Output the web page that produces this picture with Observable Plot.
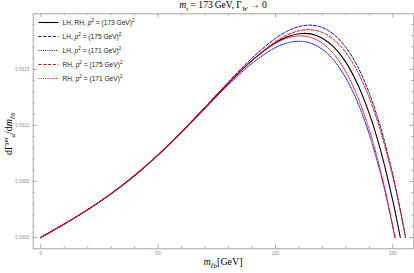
<!DOCTYPE html>
<html><head><meta charset="utf-8">
<script src="https://cdn.jsdelivr.net/npm/d3@7"></script>
<script src="https://cdn.jsdelivr.net/npm/@observablehq/plot@0.6"></script>
<style>body{margin:0;background:#fff;} svg{display:block;}</style>
</head><body><div id="chart"></div>
<script>
// ---- data ----
const mGrid = [0,10,20,30,40,50,60,70,80,90,100,105,110,115,120,125,130,135,140,145];
const mTail173 = [150,152,153.18];
const mTail175 = [150,153,155.43];
const mTail171 = [148,150,150.92];

const lhrh173 = [0,.0001203,.0002483,.0003909,.0005529,.0007365,.0009400,.0011571,.0013758,.0015776,.0017363,.0017891,.0018176,.0018157,.0017773,.0016951,.0015613,.0013675,.0011043,.0007615,.0003282,.0001270,0];
const lh175 = [0,.0001203,.0002482,.0003906,.0005526,.0007366,.0009416,.0011623,.0013876,.0016004,.0017760,.0018397,.0018808,.0018938,.0018721,.0018086,.0016955,.0015241,.0012848,.0009671,.0005596,.0002669,0];
const lh171 = [0,.0001203,.0002484,.0003911,.0005532,.0007363,.0009381,.0011514,.0013629,.0015529,.0016939,.0017352,.0017502,.0017331,.0016774,.0015762,.0014216,.0012054,.0009188,.0005520,.0002892,.0000948,0];
const rh175 = [0,.0001202,.0002480,.0003900,.0005511,.0007335,.0009360,.0011528,.0013729,.0015790,.0017467,.0018064,.0018435,.0018528,.0018281,.0017626,.0016490,.0014791,.0012441,.0009343,.0005394,.0002569,0];
const rh171 = [0,.0001203,.0002486,.0003919,.0005551,.0007404,.0009456,.0011639,.0013824,.0015810,.0017319,.0017782,.0017979,.0017849,.0017321,.0016321,.0014763,.0012556,.0009600,.0005787,.0003038,.0000997,0];

const seriesNames = ["LH, RH, 173", "LH, 175", "LH, 171", "RH, 175", "RH, 171"];
const xMajor = [0, 50, 100, 150];
const xMinor = [10,20,30,40,60,70,80,90,110,120,130,140];
const yMajor = [0, 0.0005, 0.0010, 0.0015];
const yMinor = [0.0001,0.0002,0.0003,0.0004,0.0006,0.0007,0.0008,0.0009,0.0011,0.0012,0.0013,0.0014,0.0016,0.0017,0.0018,0.0019];

// ---- layout ----
const W = 414, H = 273;
const mL = 32.7, mR = 0.7, mT = 13.3, mB = 24.7;
const innerW = W - mL - mR, innerH = H - mT - mB;

const styles = [
  {m: mGrid.concat(mTail173), v: lhrh173, color: "#000000", dash: null, sw: 1.1},
  {m: mGrid.concat(mTail175), v: lh175, color: "#0000ff", dash: "3,1.8", sw: 1},
  {m: mGrid.concat(mTail171), v: lh171, color: "#0000ff", dash: "1,1.2", sw: 1},
  {m: mGrid.concat(mTail175), v: rh175, color: "#ff0000", dash: "3,1.8", sw: 1},
  {m: mGrid.concat(mTail171), v: rh171, color: "#ff0000", dash: "1,1.2", sw: 1}
];

const lineMarks = styles.map((s, k) => {
  const rows = s.m.map((m, i) => ({m, v: s.v[i], name: seriesNames[k]}));
  return Plot.line(rows, {x: "m", y: "v", stroke: s.color, strokeWidth: s.sw,
    strokeDasharray: s.dash, curve: "catmull-rom"});
});

const tickCol = "#a6a6a6";
const chart = Plot.plot({
  width: W, height: H,
  marginLeft: mL, marginRight: mR, marginTop: mT, marginBottom: mB,
  x: {domain: [-3.24, 158.95], axis: null},
  y: {domain: [-0.000101, 0.001995], axis: null},
  style: {background: "#fff"},
  marks: [
    Plot.frame({stroke: tickCol, strokeWidth: 1}),
    Plot.tickY(yMajor, {y: d => d, insetRight: innerW - 4, stroke: tickCol}),
    Plot.tickY(yMajor, {y: d => d, insetLeft: innerW - 4, stroke: tickCol}),
    Plot.tickY(yMinor, {y: d => d, insetRight: innerW - 2, stroke: tickCol}),
    Plot.tickY(yMinor, {y: d => d, insetLeft: innerW - 2, stroke: tickCol}),
    Plot.tickX(xMajor, {x: d => d, insetTop: innerH - 4, stroke: tickCol}),
    Plot.tickX(xMajor, {x: d => d, insetBottom: innerH - 4, stroke: tickCol}),
    Plot.tickX(xMinor, {x: d => d, insetTop: innerH - 2, stroke: tickCol}),
    Plot.tickX(xMinor, {x: d => d, insetBottom: innerH - 2, stroke: tickCol}),
    Plot.text(yMajor, {y: d => d, frameAnchor: "left", dx: -4, textAnchor: "end",
      text: d => d.toFixed(4), fontSize: 4.6, fill: "#8c8c8c", fontFamily: "Liberation Sans"}),
    Plot.text(xMajor, {x: d => d, frameAnchor: "bottom", dy: 3, lineAnchor: "top",
      text: d => String(d), fontSize: 4.6, fill: "#8c8c8c", fontFamily: "Liberation Sans"}),
    ...lineMarks
  ]
});
document.getElementById("chart").appendChild(chart);

// ---- rich text (title, axis labels, legend) ----
const svg = d3.select(chart);
function rich(sel, parts, fs) {
  let shift = 0;
  parts.forEach(p => {
    const target = p.s === "sub" ? fs * 0.3 : p.s === "sup" ? -fs * 0.42 : 0;
    sel.append("tspan")
      .attr("dy", (target - shift).toFixed(2))
      .attr("font-size", p.s ? fs * 0.7 : fs)
      .attr("font-style", p.i ? "italic" : "normal")
      .text(p.t);
    shift = target;
  });
}
const serif = "'Liberation Serif', 'DejaVu Serif', serif";
const sans = "'Liberation Sans', Arial, sans-serif";

// title
const tfs = 9.6;
const title = svg.append("text").attr("x", mL + innerW / 2).attr("y", 8.3)
  .attr("text-anchor", "middle").attr("font-family", serif).attr("fill", "#000");
rich(title, [{t: "m", i: 1}, {t: "t", s: "sub"}, {t: " = 173\u2009GeV, \u0393"}, {t: "W", i: 1, s: "sub"}, {t: " \u2192 0"}], tfs);

// x label
const lab = 10;
const xl = svg.append("text").attr("x", mL + innerW / 2).attr("y", 265)
  .attr("text-anchor", "middle").attr("font-family", serif).attr("fill", "#000");
rich(xl, [{t: "m", i: 1}, {t: "\u2113b", i: 1, s: "sub"}, {t: "[GeV]"}], lab);

// y label
const yl = svg.append("text").attr("transform", `translate(12,${mT + innerH / 2 + 3}) rotate(-90)`)
  .attr("text-anchor", "middle").attr("font-family", serif).attr("fill", "#000");
rich(yl, [{t: "d\u0393"}, {t: "\u03c1\u03c3", i: 1, s: "sup"}, {t: "a", i: 1, s: "sub"}, {t: "/d"}, {t: "m", i: 1}, {t: "\u2113b", i: 1, s: "sub"}], lab);

// legend
const legendRows = [
  {pre: "LH, RH, ", val: "173"},
  {pre: "LH, ", val: "175"},
  {pre: "LH, ", val: "171"},
  {pre: "RH, ", val: "175"},
  {pre: "RH, ", val: "171"}
];
const lfs = 6.6;
legendRows.forEach((r, k) => {
  const y = 22.5 + k * 14;
  const s = styles[k];
  svg.append("line").attr("x1", 38.5).attr("x2", 58.5).attr("y1", y).attr("y2", y)
    .attr("stroke", s.color).attr("stroke-width", s.sw)
    .attr("stroke-dasharray", s.dash);
  const t = svg.append("text").attr("x", 62.5).attr("y", y + 2.3)
    .attr("text-anchor", "start")
    .attr("font-family", sans).attr("fill", "#222");
  rich(t, [{t: r.pre}, {t: "p", i: 1}, {t: "2", s: "sup"}, {t: " = (" + r.val + " GeV)"}, {t: "2", s: "sup"}], lfs);
});
</script>
</body></html>
